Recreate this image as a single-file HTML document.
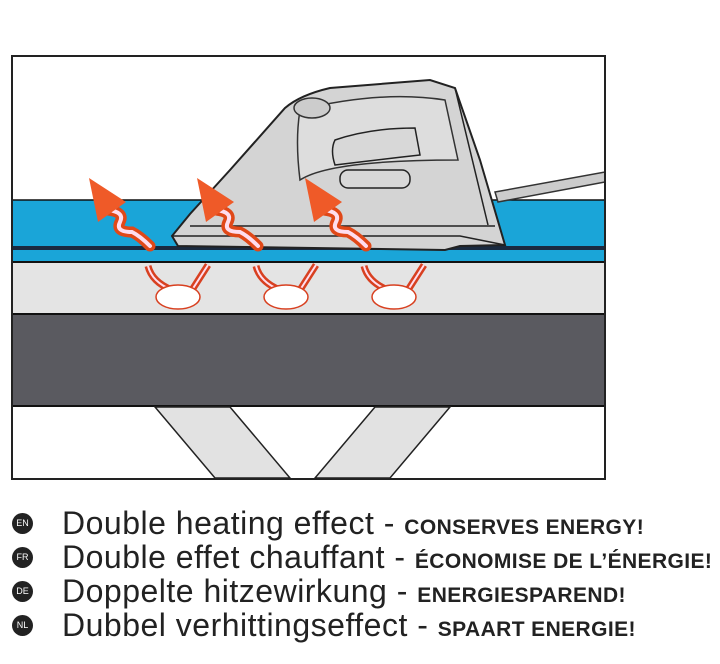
<!DOCTYPE html>
<html><head><meta charset="utf-8"><style>
body{margin:0;width:720px;height:664px;background:#fff;overflow:hidden;font-family:"Liberation Sans",sans-serif}
.l{position:absolute;left:12px;height:32px;display:flex;align-items:center;white-space:nowrap}
.b{width:21px;height:21px;border-radius:50%;background:#222;color:#fff;font-size:9px;display:flex;align-items:center;justify-content:center;margin-right:29px}
.t{font-size:32px;color:#222;letter-spacing:0.5px}
.t b{font-size:21px;letter-spacing:0.4px}
</style></head><body>
<svg width="720" height="500" style="position:absolute;left:0;top:0">
<rect x="12" y="56" width="593" height="423" fill="#fff"/>
<rect x="12" y="200" width="593" height="46" fill="#1aa5d8"/>
<rect x="12" y="246" width="593" height="4" fill="#1a2a40"/>
<rect x="12" y="250" width="593" height="12" fill="#1aa5d8"/>
<line x1="12" y1="262" x2="605" y2="262" stroke="#111" stroke-width="2"/>
<rect x="12" y="263" width="593" height="51" fill="#e4e4e4"/>
<rect x="12" y="314" width="593" height="92" fill="#5a5a60" stroke="#111" stroke-width="2"/>
<polygon points="155,407 230,407 290,478 215,478" fill="#e2e2e2" stroke="#222" stroke-width="1.5"/>
<polygon points="375,407 450,407 390,478 315,478" fill="#e2e2e2" stroke="#222" stroke-width="1.5"/>
<line x1="12" y1="200" x2="605" y2="200" stroke="#111" stroke-width="1.5"/>
<polygon points="495,192 605,172 605,182 498,202" fill="#ccc" stroke="#333" stroke-width="1.5"/>
<path d="M172,236 L190,214 L230,170 L285,108 Q300,95 330,88 L430,80 L455,88 L480,160 L505,245 L460,246 L445,250 L178,246 Z" fill="#d4d4d4" stroke="#222" stroke-width="2"/>
<path d="M172,236 L460,236 L505,245" fill="none" stroke="#222" stroke-width="1.5"/>
<path d="M190,226 L495,226" fill="none" stroke="#222" stroke-width="1.5"/>
<path d="M455,88 Q470,150 488,225" fill="none" stroke="#222" stroke-width="1.5"/>
<path d="M300,110 Q380,90 445,100 L458,160 Q330,160 300,180 Q295,140 300,110Z" fill="#ddd" stroke="#333" stroke-width="1.5"/>
<path d="M335,140 Q370,128 415,128 L420,155 Q375,160 335,165 Q330,150 335,140Z" fill="#d8d8d8" stroke="#222" stroke-width="1.5"/>
<rect x="340" y="170" width="70" height="18" rx="8" fill="#d8d8d8" stroke="#222" stroke-width="1.5"/>
<ellipse cx="312" cy="108" rx="18" ry="10" fill="#ccc" stroke="#333" stroke-width="1.5"/>
<g fill="none" stroke-linecap="round">
<g><path d="M108,210 Q125,212 120,222 Q115,232 132,232 Q140,236 150,246" stroke="#e04818" stroke-width="11"/><path d="M108,210 Q125,212 120,222 Q115,232 132,232 Q140,236 150,246" stroke="#fde" stroke-width="4"/></g>
<g transform="translate(108,0)"><path d="M108,210 Q125,212 120,222 Q115,232 132,232 Q140,236 150,246" stroke="#e04818" stroke-width="11"/><path d="M108,210 Q125,212 120,222 Q115,232 132,232 Q140,236 150,246" stroke="#fde" stroke-width="4"/></g>
<g transform="translate(216,0)"><path d="M108,210 Q125,212 120,222 Q115,232 132,232 Q140,236 150,246" stroke="#e04818" stroke-width="11"/><path d="M108,210 Q125,212 120,222 Q115,232 132,232 Q140,236 150,246" stroke="#fde" stroke-width="4"/></g>
</g>
<polygon points="89,178 126,202 98,222" fill="#ef5a28"/>
<polygon points="197,178 234,202 206,222" fill="#ef5a28"/>
<polygon points="305,178 342,202 314,222" fill="#ef5a28"/>
<g fill="none" stroke="#d84020" stroke-width="7">
<path d="M148,266 Q152,282 172,290 M208,265 L192,290"/>
<path d="M256,266 Q260,282 280,290 M316,265 L300,290"/>
<path d="M364,266 Q368,282 388,290 M424,265 L408,290"/>
</g>
<g fill="none" stroke="#fde" stroke-width="2">
<path d="M148,266 Q152,282 172,290 M208,265 L192,290"/>
<path d="M256,266 Q260,282 280,290 M316,265 L300,290"/>
<path d="M364,266 Q368,282 388,290 M424,265 L408,290"/>
</g>
<g fill="#fff" stroke="#d84020" stroke-width="1.5">
<ellipse cx="178" cy="297" rx="22" ry="12"/>
<ellipse cx="286" cy="297" rx="22" ry="12"/>
<ellipse cx="394" cy="297" rx="22" ry="12"/>
</g>
<rect x="12" y="56" width="593" height="423" fill="none" stroke="#222" stroke-width="2"/>
</svg>
<div class="l" style="top:507px"><div class="b">EN</div><div class="t">Double heating effect - <b>CONSERVES ENERGY!</b></div></div>
<div class="l" style="top:541px"><div class="b">FR</div><div class="t">Double effet chauffant - <b>ÉCONOMISE DE L’ÉNERGIE!</b></div></div>
<div class="l" style="top:575px"><div class="b">DE</div><div class="t">Doppelte hitzewirkung - <b>ENERGIESPAREND!</b></div></div>
<div class="l" style="top:609px"><div class="b">NL</div><div class="t">Dubbel verhittingseffect - <b>SPAART ENERGIE!</b></div></div>
</body></html>
